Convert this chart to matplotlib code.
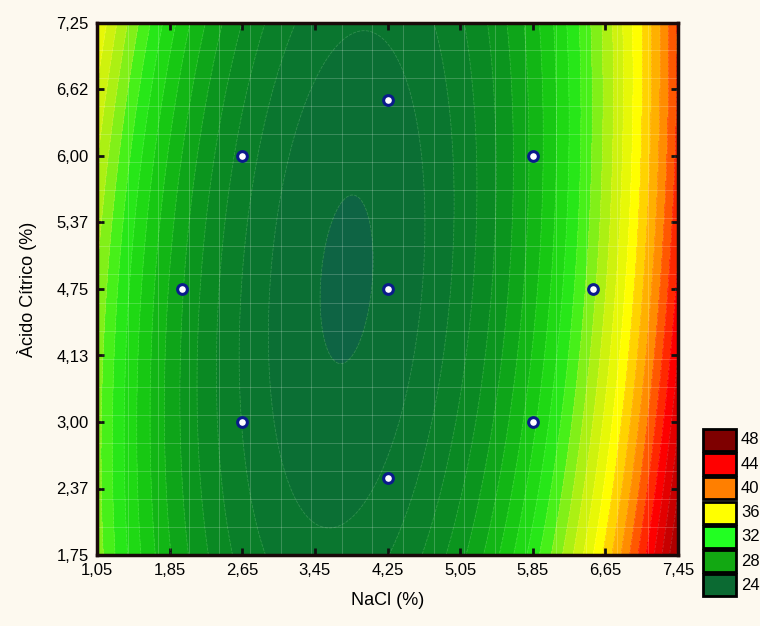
import numpy as np
import matplotlib
matplotlib.use("Agg")
import matplotlib.pyplot as plt
from matplotlib.colors import LinearSegmentedColormap, Normalize
from matplotlib.patches import Rectangle

plt.rcParams['font.family'] = ['Liberation Sans Narrow', 'Liberation Sans', 'DejaVu Sans']

# fitted quadratic surface: z = b0 + bxx*(x-xc)^2 + byy*(y-yc)^2 + by*(y-yc) + bxy*(x-xc)*(y-yc)
x_center = 3.8
y_center = 4.6
coef_b0 = 23.87
coef_bxx = 1.6
coef_byy = 0.18
coef_by = 0.0
coef_bxy = -0.24

# experimental design points
nacl_pts = [2.65, 2.65, 5.85, 5.85, 1.99, 6.51, 4.25, 4.25, 4.25]
acido_pts = [3.125, 5.875, 3.125, 5.875, 4.5, 4.5, 2.55, 6.45, 4.5]

x_ticks = [1.05, 1.85, 2.65, 3.45, 4.25, 5.05, 5.85, 6.65, 7.45]
x_labels = ['1,05', '1,85', '2,65', '3,45', '4,25', '5,05', '5,85', '6,65', '7,45']
y_labels = ['1,75', '2,37', '3,00', '4,13', '4,75', '5,37', '6,00', '6,62', '7,25']

legend_vals = ['48', '44', '40', '36', '32', '28', '24']
legend_cols = ['#7e0000', '#ff0000', '#ff7f00', '#ffff00', '#22ff22', '#12a812', '#0b6a32']

cmap_nodes = [(23.8, '#0e6444'), (24.0, '#0b6c36'), (26, '#0a7a2c'), (28, '#0a8e20'),
              (30, '#0fae16'), (32, '#1ad012'), (34, '#2cf01a'), (35.5, '#80f018'),
              (37.2, '#c8f010'), (39.5, '#ffff00'), (41, '#ffc000'), (42.5, '#ff8c00'),
              (44, '#ff4000'), (45.5, '#ff0000'), (47.5, '#c80000'), (50, '#8a0000')]

bg = '#fdf9ef'
W, H = 760, 626

fig = plt.figure(figsize=(W / 100, H / 100), dpi=100, facecolor=bg)
ax = fig.add_axes([97 / W, 71 / H, 581 / W, 532 / H])

xs = np.linspace(x_ticks[0], x_ticks[-1], 400)
ys = np.linspace(1.75, 7.25, 400)
X, Y = np.meshgrid(xs, ys)
dx = X - x_center
dy = Y - y_center
Z = coef_b0 + coef_bxx * dx ** 2 + coef_byy * dy ** 2 + coef_by * dy + coef_bxy * dx * dy

lo, hi = cmap_nodes[0][0], cmap_nodes[-1][0]
cmap = LinearSegmentedColormap.from_list(
    'stat', [((v - lo) / (hi - lo), c) for v, c in cmap_nodes])
norm = Normalize(lo, hi)

levels = [Z.min() - 0.01] + list(np.arange(24, 52, 1.0))
mids = [(levels[i] + levels[i + 1]) / 2 for i in range(len(levels) - 1)]
mids[0] = lo
ax.contourf(X, Y, Z, levels=levels, colors=[cmap(norm(m)) for m in mids])
ax.contour(X, Y, Z, levels=levels[1:], colors='white', alpha=0.16,
           linewidths=0.6, linestyles='--')

# faint mesh lines
ax.set_xticks(np.arange(1.05, 7.45, 0.337), minor=True)
ax.set_yticks(np.arange(1.75, 7.25, 0.29), minor=True)
ax.grid(which='minor', color='white', alpha=0.2, linewidth=0.7)
ax.tick_params(which='minor', length=0)

ax.plot(nacl_pts, acido_pts, 'o', ms=7, mfc='white', mec='#0a1a8c', mew=2.2, ls='none')

ax.set_xlim(x_ticks[0], x_ticks[-1])
ax.set_ylim(1.75, 7.25)
ax.set_xticks(x_ticks)
ax.set_xticklabels(x_labels)
ax.set_yticks(np.linspace(1.75, 7.25, len(y_labels)))
ax.set_yticklabels(y_labels)
ax.tick_params(which='major', direction='in', length=5, width=2, color='#111',
               top=True, right=True, labelsize=12, pad=6)
for s in ax.spines.values():
    s.set_linewidth(2.5)
    s.set_color('#1a0a0a')

ax.set_xlabel('NaCl (%)', fontsize=13, labelpad=10)
ax.set_ylabel('Àcido Cítrico (%)', fontsize=13, labelpad=14)

# legend boxes at right
for i, (lab, col) in enumerate(zip(legend_vals, legend_cols)):
    top = 429 + i * 24.2
    fig.patches.append(Rectangle((703 / W, 1 - (top + 22) / H), 33 / W, 22 / H,
                                 transform=fig.transFigure, facecolor=col,
                                 edgecolor='black', linewidth=2))
    fig.text(741 / W, 1 - (top + 11) / H, lab, fontsize=12, va='center', ha='left')

fig.savefig('out.png', dpi=100, facecolor=bg)
